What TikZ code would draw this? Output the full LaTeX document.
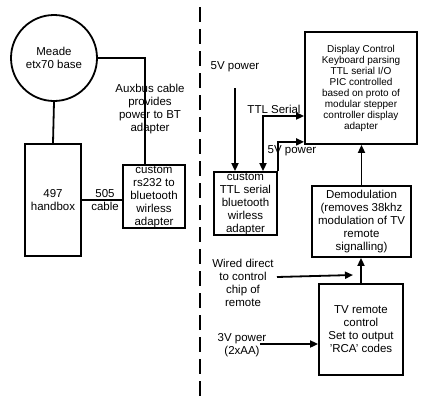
\documentclass[tikz,border=0pt]{standalone}
\usepackage{fontspec}
\setmainfont{Liberation Sans}
\usetikzlibrary{arrows.meta}
\begin{document}
\begin{tikzpicture}[x=1pt,y=-1pt,
  line width=1.8pt,
  box/.style={draw,line width=1.8pt,rectangle,inner sep=0pt,align=center,font=\fontsize{11.5}{13}\selectfont},
  lbl/.style={align=center,inner sep=0pt,font=\fontsize{11.5}{13}\selectfont},
  conn/.style={line width=1.8pt},
  arr/.style={conn,-{Triangle[length=8pt,width=7pt]}},
  darr/.style={conn,{Triangle[length=8pt,width=7pt]}-{Triangle[length=8pt,width=7pt]}}
]
\useasboundingbox (0,0) rectangle (431,402);
% dashed separator
\coordinate (dtop) at (200,7);
\coordinate (dbot) at (200,402);
\draw[line width=2pt,dash pattern=on 15pt off 7pt] (dtop) -- (dbot);

% nodes
\node[draw,circle,line width=1.8pt,minimum size=86pt,inner sep=0pt,align=center,font=\fontsize{11.5}{13}\selectfont] (meade) at (54,58) {Meade\\etx70 base};
\node[box,minimum width=56pt,minimum height=112pt] (hand) at (53,200) {497\\handbox};
\node[box,minimum width=62pt,minimum height=63pt] (rs) at (154,196.5) {custom\\rs232 to\\bluetooth\\wirless\\adapter};
\node[box,minimum width=63pt,minimum height=63pt] (ttl) at (245.5,203.5) {custom\\TTL serial\\bluetooth\\wirless\\adapter};
\node[box,minimum width=112pt,minimum height=112pt,font=\fontsize{10}{11}\selectfont] (disp) at (361,88) {Display Control\\Keyboard parsing\\TTL serial I/O\\PIC controlled\\based on proto of\\modular stepper\\controller display\\adapter};
\node[box,minimum width=99pt,minimum height=71pt] (demod) at (361.5,221.5) {Demodulation\\(removes 38khz\\modulation of TV\\remote\\signalling)};
\node[box,minimum width=84pt,minimum height=91pt] (tv) at (361,329.5) {TV remote\\control\\Set to output\\'RCA' codes};

% labels
\node[lbl] (aux) at (150,109) {Auxbus cable\\provides\\power to BT\\adapter};
\node[lbl] (cable) at (105,200) {505\\cable};
\node[lbl] (p5a) at (235,67) {5V power};
\node[lbl] (ttls) at (274,109) {TTL Serial};
\node[lbl] (p5b) at (292,151) {5V power};
\node[lbl] (wired) at (243,283) {Wired direct\\to control\\chip of\\remote};
\node[lbl] (p3) at (242,345) {3V power\\(2xAA)};

% connectors
\draw[conn] (meade.south) -- (hand.north);
\draw[conn] (meade.east) -| ([xshift=-9pt]rs.north);
\draw[conn] (hand.east |- 0,200) -- (rs.west |- 0,200);
\coordinate (s5a) at (235,88);
\draw[arr] (s5a) -- (s5a |- ttl.north);
\draw[darr] ([xshift=17.5pt]ttl.north) |- ([yshift=-28pt]disp.west);
\draw[arr] (ttl.north east) |- ([yshift=3pt]disp.south west);
\draw[arr] (demod.north) -- (demod.north |- disp.south);
\draw[arr] (tv.north) -- (tv.north |- demod.south);
\coordinate (w1) at (277,277);
\coordinate (w2) at (353,275);
\draw[arr] (w1) -- (w2);
\coordinate (v1) at (260,344);
\draw[arr] (v1) -- (v1 -| tv.west);
\end{tikzpicture}
\end{document}
